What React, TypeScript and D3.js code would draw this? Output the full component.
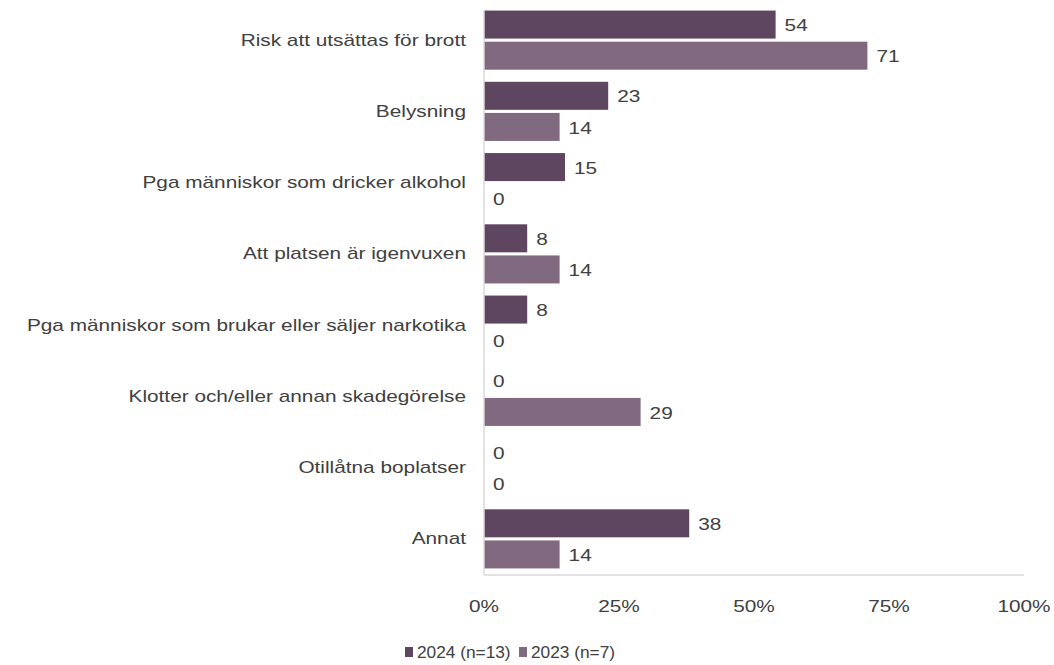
import React from 'react';
import * as d3 from 'd3';

const categories = [
  'Risk att utsättas för brott',
  'Belysning',
  'Pga människor som dricker alkohol',
  'Att platsen är igenvuxen',
  'Pga människor som brukar eller säljer narkotika',
  'Klotter och/eller annan skadegörelse',
  'Otillåtna boplatser',
  'Annat',
];
const values2024 = [54, 23, 15, 8, 8, 0, 0, 38];
const values2023 = [71, 14, 0, 14, 0, 29, 0, 14];
const seriesNames = ['2024 (n=13)', '2023 (n=7)'];
const colors = ['#5e4660', '#816a80'];
const ticks = [0, 25, 50, 75, 100];

const W = 1054;
const H = 665;
const left = 484;
const right = 1024;
const top = 10;
const bottom = 575;
const font = '"Liberation Sans", Arial, sans-serif';

// the source text is stretched sideways, so squeeze it the same way
const Txt = ({ x, y, anchor = 'start', sx = 1.3, children }: any) => (
  <text
    transform={`translate(${x},${y}) scale(${sx},1)`}
    textAnchor={anchor}
    dominantBaseline="central"
    fontSize={16}
    fill="#404040"
  >
    {children}
  </text>
);

export default function App() {
  const x = d3.scaleLinear().domain([0, 100]).range([left, right]);
  const y = d3.scaleBand<string>().domain(categories).range([top - 3, bottom - 3]).paddingInner(0.17).paddingOuter(0.05);
  const sub = d3.scaleBand<string>().domain(seriesNames).range([0, y.bandwidth()]).paddingInner(0.1);
  const series = [values2024, values2023];

  return (
    <svg width={W} height={H} style={{ position: 'absolute', left: 0, top: 0 }} fontFamily={font}>
      <rect width={W} height={H} fill="#fff" />
      {categories.map((c, i) => (
        <g key={c}>
          <Txt x={left - 18} y={y(c)! + y.bandwidth() / 2} anchor="end">
            {c}
          </Txt>
          {series.map((vals, s) => {
            const by = y(c)! + sub(seriesNames[s])!;
            const v = vals[i];
            return (
              <g key={s}>
                {v > 0 && (
                  <rect x={x(0)} y={by} width={x(v) - x(0)} height={sub.bandwidth()} fill={colors[s]} />
                )}
                <Txt x={x(v) + 9} y={by + sub.bandwidth() / 2 + 1}>
                  {v}
                </Txt>
              </g>
            );
          })}
        </g>
      ))}
      <line x1={left} x2={left} y1={top} y2={bottom} stroke="#d9d9d9" strokeWidth={1.5} />
      <line x1={left} x2={right} y1={bottom} y2={bottom} stroke="#d9d9d9" strokeWidth={1.5} />
      {ticks.map((t) => (
        <Txt key={t} x={x(t)} y={606} anchor="middle">
          {t}%
        </Txt>
      ))}
      {seriesNames.map((n, i) => {
        const lx = i === 0 ? 405 : 519;
        return (
          <g key={n}>
            <rect x={lx} y={647} width={8} height={10} fill={colors[i]} />
            <Txt x={lx + 12} y={653} sx={1.08}>
              {n}
            </Txt>
          </g>
        );
      })}
    </svg>
  );
}
